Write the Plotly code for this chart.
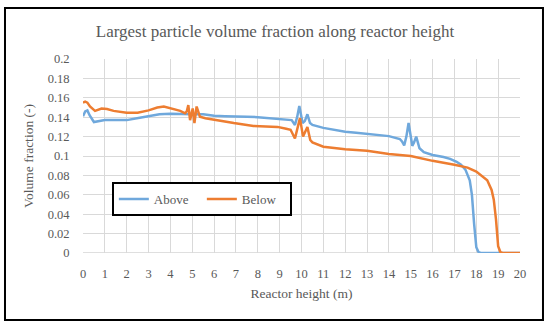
import plotly.graph_objects as go

# Data
above_x = [0, 0.1, 0.2, 0.3, 0.5, 0.7, 1.0, 1.5, 2.0, 2.6, 3.0, 3.5, 4.0, 4.5, 5.0, 5.5, 6.0, 6.5, 7.0,
           7.5, 8.0, 8.5, 9.0, 9.55, 9.7, 9.8, 9.9, 10.05, 10.15, 10.27, 10.39, 10.5, 11.0, 11.5, 12.0,
           12.5, 13.0, 13.5, 14.0, 14.5, 14.6, 14.7, 14.8, 14.9, 15.0, 15.07, 15.15, 15.25, 15.4, 15.6,
           16.0, 16.5, 16.8, 17.1, 17.3, 17.5, 17.7, 17.8, 17.9, 18.0, 18.1, 18.2, 18.5, 19, 20]
above_y = [0.141, 0.146, 0.147, 0.142, 0.135, 0.136, 0.137, 0.137, 0.137, 0.1395, 0.141, 0.143, 0.1435,
           0.143, 0.143, 0.143, 0.1415, 0.141, 0.141, 0.1405, 0.14, 0.139, 0.1385, 0.137, 0.132, 0.140,
           0.1515, 0.134, 0.136, 0.143, 0.134, 0.132, 0.129, 0.127, 0.125, 0.124, 0.123, 0.1215, 0.1205,
           0.1175, 0.115, 0.111, 0.120, 0.134, 0.121, 0.1105, 0.114, 0.120, 0.108, 0.104, 0.101, 0.099,
           0.097, 0.094, 0.091, 0.086, 0.075, 0.06, 0.03, 0.006, 0.001, 0, 0, 0, 0]

below_x = [0, 0.1, 0.2, 0.32, 0.55, 0.85, 1.1, 1.4, 2.0, 2.5, 3.0, 3.4, 3.7, 4.0, 4.45, 4.67, 4.75, 4.82,
           4.9, 5.02, 5.1, 5.2, 5.35, 5.6, 6.1, 6.9, 7.8, 8.5, 8.9, 9.3, 9.5, 9.7, 9.93, 10.07, 10.27,
           10.4, 10.5, 11.0, 12.0, 13.0, 14.0, 15.0, 16.0, 17.0, 17.6, 18.0, 18.3, 18.5, 18.7, 18.8,
           18.9, 19.0, 19.1, 19.2, 20]
below_y = [0.155, 0.156, 0.155, 0.151, 0.1465, 0.149, 0.1485, 0.1465, 0.1445, 0.1445, 0.147, 0.150,
           0.151, 0.149, 0.1465, 0.144, 0.146, 0.1525, 0.137, 0.149, 0.134, 0.151, 0.1405, 0.139, 0.137,
           0.134, 0.131, 0.130, 0.130, 0.128, 0.127, 0.118, 0.139, 0.120, 0.130, 0.1165, 0.114, 0.1096,
           0.107, 0.1055, 0.102, 0.100, 0.095, 0.091, 0.088, 0.084, 0.079, 0.075, 0.065, 0.055, 0.035,
           0.007, 0.001, 0, 0]

x_ticks = list(range(0, 21))
y_ticks = [round(0.02 * i, 2) for i in range(11)]
y_tick_labels = ["0", "0.02", "0.04", "0.06", "0.08", "0.1", "0.12", "0.14", "0.16", "0.18", "0.2"]

FONT = "Liberation Serif"
GRAY = "#595959"

fig = go.Figure()
fig.add_trace(go.Scatter(x=above_x, y=above_y, mode="lines", name="Above",
                         line=dict(color="#6FA8DC", width=2.5)))
fig.add_trace(go.Scatter(x=below_x, y=below_y, mode="lines", name="Below",
                         line=dict(color="#ED7D31", width=2.5)))

fig.update_layout(
    width=550, height=328,
    margin=dict(l=83, r=30, t=59, b=75),
    paper_bgcolor="white", plot_bgcolor="white",
    font=dict(family=FONT, color=GRAY, size=12),
    title=dict(text="Largest particle volume fraction along reactor height",
               x=0.5, xanchor="center", y=0.905, yanchor="middle",
               font=dict(family=FONT, size=17, color=GRAY)),
    legend=dict(orientation="h", x=0.066, y=0.366, xanchor="left", yanchor="top",
                bordercolor="black", borderwidth=2, bgcolor="white",
                font=dict(family=FONT, size=13, color=GRAY),
                entrywidth=43, entrywidthmode="pixels"),
    xaxis=dict(range=[0, 20], tickvals=x_ticks, showgrid=True, gridcolor="#d9d9d9", gridwidth=1,
               zeroline=False, showline=False, ticks="outside", ticklen=9,
               tickcolor="rgba(0,0,0,0)", tickfont=dict(size=12.5, color=GRAY),
               title=dict(text="Reactor height (m)", font=dict(size=13.5, color=GRAY), standoff=8)),
    yaxis=dict(range=[0, 0.2], tickvals=y_ticks, ticktext=y_tick_labels, showgrid=True,
               gridcolor="#d9d9d9", gridwidth=1, zeroline=False, showline=False,
               ticks="outside", ticklen=10, tickcolor="rgba(0,0,0,0)",
               tickfont=dict(size=12.5, color=GRAY),
               title=dict(text="Volume fraction (-)", font=dict(size=13.5, color=GRAY), standoff=10)),
    shapes=[
        dict(type="rect", xref="paper", yref="paper", x0=-0.1785, x1=1.0526, y0=-0.345, y1=1.263,
             line=dict(color="black", width=2), layer="below"),
        dict(type="line", xref="paper", yref="y", x0=0, x1=1, y0=0, y1=0,
             line=dict(color="#bfbfbf", width=1), layer="below"),
    ],
)

fig.write_html("out.html", config={"displayModeBar": False},
               post_script="document.body.style.margin='0';")
